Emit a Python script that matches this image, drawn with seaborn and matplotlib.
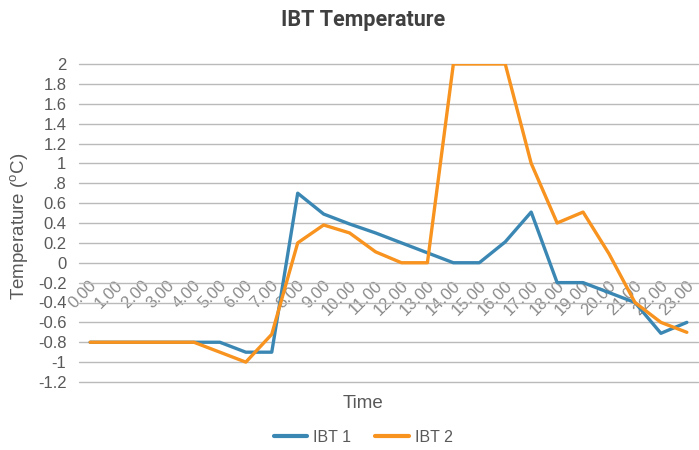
import matplotlib
matplotlib.use("Agg")
import matplotlib.pyplot as plt
import matplotlib.transforms as mtransforms
from matplotlib import font_manager as fm
import numpy as np
import pandas as pd
import seaborn as sns

# Hourly readings
hours = [f"{h}.00" for h in range(24)]
ibt1 = [-0.8, -0.8, -0.8, -0.8, -0.8, -0.8, -0.9, -0.9, 0.7, 0.49, 0.39, 0.3,
        0.2, 0.1, 0.0, 0.0, 0.21, 0.51, -0.2, -0.2, -0.3, -0.4, -0.71, -0.6]
ibt2 = [-0.8, -0.8, -0.8, -0.8, -0.8, -0.9, -1.0, -0.72, 0.2, 0.38, 0.3, 0.11,
        0.0, 0.0, 2.0, 2.0, 2.0, 1.0, 0.4, 0.51, 0.09, -0.4, -0.6, -0.7]
series_names = ["IBT 1", "IBT 2"]
series_colors = ["#3b87b4", "#f7931e"]
y_ticks = [2, 1.8, 1.6, 1.4, 1.2, 1, 0.8, 0.6, 0.4, 0.2, 0, -0.2, -0.4, -0.6,
           -0.8, -1, -1.2]
y_tick_labels = ["2", "1.8", "1.6", "1.4", "1.2", "1", ".8", "0.6", "0.4", "0.2",
                 "0", "-0.2", "-0.4", "-0.6", "-0.8", "-1", "-1.2"]

df = pd.DataFrame({
    "hour": list(range(24)) * 2,
    "temp": ibt1 + ibt2,
    "series": [series_names[0]] * 24 + [series_names[1]] * 24,
})

sns.set_theme(style="white")
plt.rcParams["font.family"] = ["Liberation Sans", "DejaVu Sans"]
plt.rcParams["mathtext.fontset"] = "custom"
plt.rcParams["mathtext.rm"] = "Liberation Sans"

# Prefer a narrow bold face for the title when one is available
try:
    fm.findfont(fm.FontProperties(family="Liberation Sans Narrow", weight="bold"),
                fallback_to_default=False)
    title_family, title_size = ["Liberation Sans Narrow"], 17
except Exception:
    title_family, title_size = ["Roboto", "Liberation Sans"], 15.5

fig = plt.figure(figsize=(6.99, 4.5), dpi=100)
ax = fig.add_axes([79 / 699, 1 - 382 / 450, 619 / 699, 318 / 450])

sns.lineplot(data=df, x="hour", y="temp", hue="series", palette=series_colors,
             linewidth=2.4, ax=ax, legend=False, zorder=3)

ax.set_xlim(-0.43, 23.43)
ax.set_ylim(-1.2, 2.0)
ax.set_yticks(y_ticks)
ax.set_yticklabels(y_tick_labels)
ax.tick_params(axis="y", length=0, pad=9, labelsize=12, labelcolor="#595959")
for y in y_ticks:
    ax.axhline(y, color="#bababa", linewidth=1.0, zorder=1, clip_on=False)

for s in ax.spines.values():
    s.set_visible(False)
ax.spines["bottom"].set_position(("data", 0))

ax.set_xticks(range(24))
ax.set_xticklabels(hours)
ax.tick_params(axis="x", length=0, pad=11, labelsize=12, labelcolor="#8a8a8a")
shift = mtransforms.ScaledTranslation(-1 / 100, 0, fig.dpi_scale_trans)
for lab in ax.get_xticklabels():
    lab.set_rotation(45)
    lab.set_ha("right")
    lab.set_va("top")
    lab.set_rotation_mode("anchor")
    lab.set_transform(lab.get_transform() + shift)

ax.set_xlabel("")
ax.set_ylabel("")
fig.text(20 / 699, 1 - 226 / 450, r"Temperature ($^{\rm o}$C)", rotation=90,
         ha="center", va="center", fontsize=13.5, color="#595959")
fig.text(363 / 699, 1 - 403 / 450, "Time", ha="center", va="center",
         fontsize=13.5, color="#595959")
fig.text(363 / 699, 1 - 20 / 450, "IBT Temperature", ha="center", va="center",
         fontsize=title_size, fontweight="bold", color="#404040",
         family=title_family)

handles = [plt.Line2D([], [], color=c, linewidth=3) for c in series_colors]
fig.legend(handles, series_names, loc="center", bbox_to_anchor=(363 / 699, 1 - 437 / 450),
           ncol=2, frameon=False, fontsize=11.5, labelcolor="#595959",
           handlelength=2.1, columnspacing=1.55, handletextpad=0.35)

fig.savefig("out.png", dpi=100)
